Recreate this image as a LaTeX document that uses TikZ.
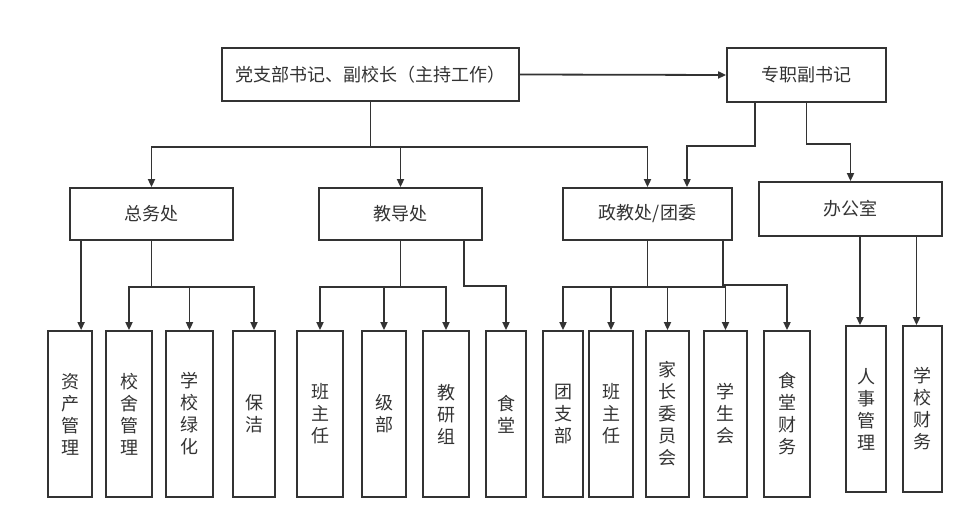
\documentclass[tikz,border=0pt]{standalone}
\usepackage{fontspec}
\newfontfamily\cjk{Noto Sans CJK SC}
\usepackage{tikz}
\usetikzlibrary{arrows.meta}
\definecolor{ink}{HTML}{333333}

\begin{document}
\begin{tikzpicture}[x=1pt,y=-1pt]
	\tikzstyle{box}=[rectangle,draw=ink,line width=1.8pt,text=ink,inner sep=0pt,font=\cjk\fontsize{18}{22}\selectfont,align=center]
	\tikzstyle{leaf}=[box,minimum width=44pt,minimum height=166pt]
	\tikzstyle{arr}=[draw=ink,line width=1.8pt,-{Triangle[length=8pt,width=7pt]}]
	\useasboundingbox (0,0) rectangle (974,529);
	% top level
	\node[box,minimum width=297pt,minimum height=53pt] (top) at (370.5,74.5) {党支部书记、副校长（主持工作）};
	\node[box,minimum width=159pt,minimum height=54pt] (fu) at (806.5,75) {专职副书记};
	% offices
	\node[box,minimum width=163pt,minimum height=52pt] (zw) at (151.5,214) {总务处};
	\node[box,minimum width=163pt,minimum height=52pt] (jd) at (400.5,214) {教导处};
	\node[box,minimum width=169pt,minimum height=52pt] (zj) at (647.5,214) {政教处/团委};
	\node[box,minimum width=183pt,minimum height=54pt] (bg) at (850.5,209) {办公室};
	% leaves
	\node[leaf] (zw1) at (70,414) {资\\产\\管\\理};
	\node[leaf,minimum width=46pt] (zw2) at (129,414) {校\\舍\\管\\理};
	\node[leaf,minimum width=47pt] (zw3) at (189.5,414) {学\\校\\绿\\化};
	\node[leaf,minimum width=42pt] (zw4) at (254,414) {保\\洁};
	\node[leaf,minimum width=46pt] (jd1) at (320,414) {班\\主\\任};
	\node[leaf] (jd2) at (384,414) {级\\部};
	\node[leaf,minimum width=46pt] (jd3) at (446,414) {教\\研\\组};
	\node[leaf,minimum width=40pt] (jd4) at (506,414) {食\\堂};
	\node[leaf,minimum width=40pt] (zj1) at (563,414) {团\\支\\部};
	\node[leaf] (zj2) at (611,414) {班\\主\\任};
	\node[leaf,minimum width=43pt] (zj3) at (667.5,414) {家\\长\\委\\员\\会};
	\node[leaf,minimum width=43pt] (zj4) at (725.5,414) {学\\生\\会};
	\node[leaf,minimum width=46pt] (zj5) at (787,414) {食\\堂\\财\\务};
	\node[leaf,minimum width=40pt] (bg1) at (866,409) {人\\事\\管\\理};
	\node[leaf,minimum width=39pt] (bg2) at (922.5,409) {学\\校\\财\\务};
	% connectors
	\draw[arr] (top.east) -- (fu.west);
	\draw[arr] (top.south) -- ++(0,45) -| (zw.north);
	\draw[arr] (top.south) -- ++(0,45) -| (jd.north);
	\draw[arr] (top.south) -- ++(0,45) -| (zj.north);
	\draw[arr] ([xshift=29]fu.south west) -- ++(0,43) -| ([xshift=39.5]zj.north);
	\draw[arr] (fu.south) -- ++(0,41) -| (bg.north);
	\draw[arr] ([xshift=12]zw.south west) -- ([xshift=12]zw.south west |- zw1.north);
	\draw[arr] (zw.south) -- ++(0,46) -| (zw2.north);
	\draw[arr] (zw.south) -- ++(0,46) -| (zw3.north);
	\draw[arr] (zw.south) -- ++(0,46) -| (zw4.north);
	\draw[arr] (jd.south) -- ++(0,46) -| (jd1.north);
	\draw[arr] (jd.south) -- ++(0,46) -| (jd2.north);
	\draw[arr] (jd.south) -- ++(0,46) -| (jd3.north);
	\draw[arr] ([xshift=-19]jd.south east) -- ++(0,45) -| (jd4.north);
	\draw[arr] (zj.south) -- ++(0,46) -| (zj1.north);
	\draw[arr] (zj.south) -- ++(0,46) -| (zj2.north);
	\draw[arr] (zj.south) -- ++(0,46) -| (zj3.north);
	\draw[arr] (zj.south) -- ++(0,46) -| (zj4.north);
	\draw[arr] ([xshift=-10]zj.south east) -- ++(0,44) -| (zj5.north);
	\draw[arr] ([xshift=-6]bg.south -| bg1.north) -- ([xshift=-6]bg1.north);
	\draw[arr] ([xshift=-6]bg.south -| bg2.north) -- ([xshift=-6]bg2.north);
\end{tikzpicture}
\end{document}
